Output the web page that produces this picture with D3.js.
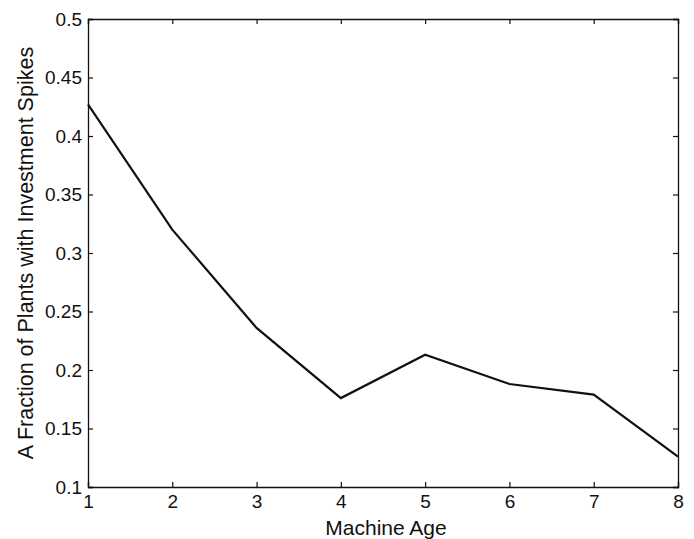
<!DOCTYPE html>
<html>
<head>
<meta charset="utf-8">
<script src="https://cdn.jsdelivr.net/npm/d3@7"></script>
<style>
  body { margin: 0; background: #fff; }
  text { font-family: "Liberation Sans", Arial, Helvetica, sans-serif; fill: #111; }
</style>
</head>
<body>
<svg id="chart" width="694" height="539"></svg>
<script>
// machine age vs fraction of plants with spikes
const ages = [1, 2, 3, 4, 5, 6, 7, 8];
const fractions = [0.427, 0.320, 0.236, 0.176, 0.213, 0.188, 0.179, 0.126];
const xTicks = [1, 2, 3, 4, 5, 6, 7, 8];
const yTicks = [0.1, 0.15, 0.2, 0.25, 0.3, 0.35, 0.4, 0.45, 0.5];

const plotLeft = 88, plotRight = 678, plotTop = 19, plotBottom = 487;

const svg = d3.select('#chart');

const x = d3.scaleLinear().domain([1, 8]).range([plotLeft, plotRight]);
const y = d3.scaleLinear().domain([0.1, 0.5]).range([plotBottom, plotTop]);

const tickLen = 5;
const fmt = d => String(+d.toFixed(2));

// bottom axis
const gx = svg.append('g').attr('transform', `translate(0,${plotBottom})`)
  .call(d3.axisBottom(x).tickValues(xTicks).tickSize(-tickLen).tickPadding(8).tickFormat(d3.format('d')));
// left axis
const gy = svg.append('g').attr('transform', `translate(${plotLeft},0)`)
  .call(d3.axisLeft(y).tickValues(yTicks).tickSize(-tickLen).tickPadding(6).tickFormat(fmt));
// top & right mirrored ticks
const gt = svg.append('g').attr('transform', `translate(0,${plotTop})`)
  .call(d3.axisTop(x).tickValues(xTicks).tickSize(-tickLen).tickFormat(''));
const gr = svg.append('g').attr('transform', `translate(${plotRight},0)`)
  .call(d3.axisRight(y).tickValues(yTicks).tickSize(-tickLen).tickFormat(''));

[gx, gy, gt, gr].forEach(g => {
  g.selectAll('path.domain').attr('stroke', '#111').attr('stroke-width', 1.3);
  g.selectAll('line').attr('stroke', '#111').attr('stroke-width', 1.2);
  g.selectAll('text').attr('font-size', 19).attr('fill', '#111')
    .attr('font-family', '"Liberation Sans", Arial, sans-serif');
});

// data line
const line = d3.line().x((d, i) => x(ages[i])).y(d => y(d));
svg.append('path')
  .datum(fractions)
  .attr('d', line)
  .attr('fill', 'none')
  .attr('stroke', '#111')
  .attr('stroke-width', 2.2)
  .attr('stroke-linejoin', 'miter');

// axis titles
svg.append('text')
  .attr('x', 386)
  .attr('y', 535)
  .attr('text-anchor', 'middle')
  .attr('font-size', 21)
  .text('Machine Age');

svg.append('text')
  .attr('transform', `translate(33,${(plotTop + plotBottom) / 2}) rotate(-90)`)
  .attr('text-anchor', 'middle')
  .attr('font-size', 21.5)
  .text('A Fraction of Plants with Investment Spikes');
</script>
</body>
</html>
